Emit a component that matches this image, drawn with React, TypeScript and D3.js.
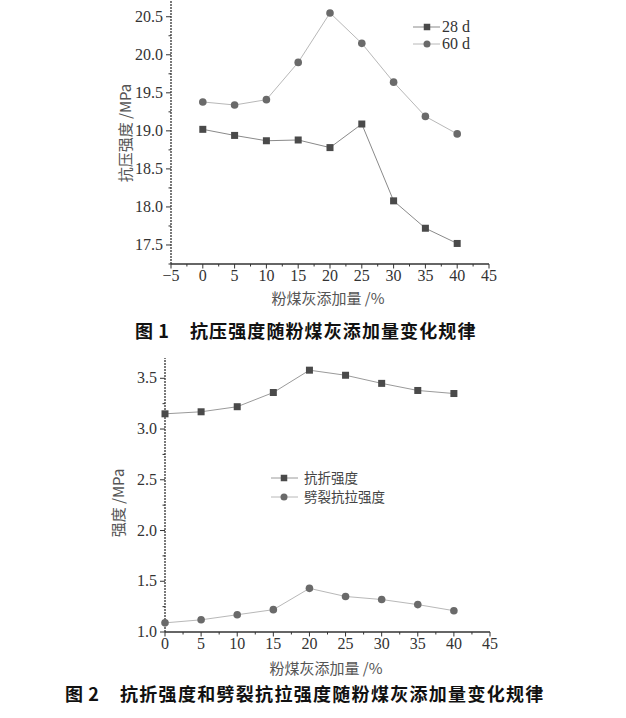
import React from "react";
import * as d3 from "d3";

const fly = [0, 5, 10, 15, 20, 25, 30, 35, 40];
const comp28 = [19.02, 18.94, 18.87, 18.88, 18.78, 19.09, 18.08, 17.72, 17.52];
const comp60 = [19.38, 19.34, 19.41, 19.9, 20.55, 20.15, 19.64, 19.19, 18.96];
const flex = [3.15, 3.17, 3.22, 3.36, 3.58, 3.53, 3.45, 3.38, 3.35];
const split = [1.09, 1.12, 1.17, 1.22, 1.43, 1.35, 1.32, 1.27, 1.21];

const xTicks1 = [-5, 0, 5, 10, 15, 20, 25, 30, 35, 40, 45];
const yTicks1 = [17.5, 18.0, 18.5, 19.0, 19.5, 20.0, 20.5];
const xTicks2 = [0, 5, 10, 15, 20, 25, 30, 35, 40, 45];
const yTicks2 = [1.0, 1.5, 2.0, 2.5, 3.0, 3.5];

const SERIF = "'Liberation Serif', 'DejaVu Serif', serif";
const CJK = "'Noto Sans CJK SC', sans-serif";

type AxisProps = {
  x: d3.ScaleLinear<number, number>;
  y: d3.ScaleLinear<number, number>;
  xTicks: number[];
  yTicks: number[];
  xMinor: number[];
  yMinor: number[];
  yFmt: (v: number) => string;
};

function Axes({ x, y, xTicks, yTicks, xMinor, yMinor, yFmt }: AxisProps) {
  const [x0, x1] = x.range();
  const [y0, y1] = y.range();
  const c = "#333";
  return (
    <g>
      <line x1={x0} x2={x1} y1={y0} y2={y0} stroke={c} strokeWidth={1.3} />
      <line x1={x0} x2={x0} y1={y0} y2={y1} stroke={c} strokeWidth={1.3} strokeDasharray="2 1" />
      {xMinor.map((t) => (
        <line key={"xm" + t} x1={x(t)} x2={x(t)} y1={y0} y2={y0 + 2.5} stroke={c} />
      ))}
      {xTicks.map((t) => (
        <g key={"x" + t}>
          <line x1={x(t)} x2={x(t)} y1={y0} y2={y0 + 4.5} stroke={c} />
          <text x={x(t)} y={y0 + 17} textAnchor="middle" fontFamily={SERIF} fontSize={16} fill="#333">
            {t < 0 ? "\u2212" + Math.abs(t) : t}
          </text>
        </g>
      ))}
      {yMinor.map((t) => (
        <line key={"ym" + t} x1={x0} x2={x0 - 2.5} y1={y(t)} y2={y(t)} stroke={c} />
      ))}
      {yTicks.map((t) => (
        <g key={"y" + t}>
          <line x1={x0} x2={x0 - 5} y1={y(t)} y2={y(t)} stroke={c} />
          <text x={x0 - 8} y={y(t) + 5} textAnchor="end" fontFamily={SERIF} fontSize={16} fill="#333">
            {yFmt(t)}
          </text>
        </g>
      ))}
    </g>
  );
}

function Square({ cx, cy, s = 7, fill = "#4a4a4a" }: { cx: number; cy: number; s?: number; fill?: string }) {
  return <rect x={cx - s / 2} y={cy - s / 2} width={s} height={s} fill={fill} />;
}
function Dot({ cx, cy, r = 3.8, fill = "#6a6a6a" }: { cx: number; cy: number; r?: number; fill?: string }) {
  return <circle cx={cx} cy={cy} r={r} fill={fill} />;
}

export default function App() {
  // chart 1
  const x1 = d3.scaleLinear().domain([-5, 45]).range([171, 489]);
  const y1 = d3.scaleLinear().domain([17.25, 20.72]).range([264, 0]);
  // chart 2
  const x2 = d3.scaleLinear().domain([0, 45]).range([165, 490]);
  const y2 = d3.scaleLinear().domain([1.0, 3.7]).range([632, 358]);

  const line1 = (vals: number[]) =>
    d3.line<number>().x((_, i) => x1(fly[i])).y((v) => y1(v))(vals) || "";
  const line2 = (vals: number[]) =>
    d3.line<number>().x((_, i) => x2(fly[i])).y((v) => y2(v))(vals) || "";

  const xMinor1 = d3.range(-2.5, 45, 5);
  const yMinor1 = d3.range(17.25, 20.75, 0.5);
  const xMinor2 = d3.range(2.5, 45, 5);
  const yMinor2 = d3.range(1.25, 3.7, 0.5);

  return (
    <svg
      width={626}
      height={718}
      style={{ position: "absolute", left: 0, top: 0, background: "#fff" }}
    >
      <rect width={626} height={718} fill="#fff" />
      {/* Chart 1 */}
      <Axes x={x1} y={y1} xTicks={xTicks1} yTicks={yTicks1} xMinor={xMinor1} yMinor={yMinor1} yFmt={(v) => v.toFixed(1)} />
      <path d={line1(comp60)} fill="none" stroke="#b8b8b8" strokeWidth={1} />
      <path d={line1(comp28)} fill="none" stroke="#8a8a8a" strokeWidth={1} />
      {comp60.map((v, i) => (
        <Dot key={"c60" + i} cx={x1(fly[i])} cy={y1(v)} />
      ))}
      {comp28.map((v, i) => (
        <Square key={"c28" + i} cx={x1(fly[i])} cy={y1(v)} />
      ))}
      {/* legend 1 */}
      <line x1={413} x2={440} y1={27} y2={27} stroke="#8a8a8a" />
      <Square cx={427} cy={27} s={6.5} />
      <text x={442} y={32} fontFamily={SERIF} fontSize={16} fill="#333">28 d</text>
      <line x1={413} x2={440} y1={44} y2={44} stroke="#b8b8b8" />
      <Dot cx={427} cy={44} r={3.5} />
      <text x={442} y={49} fontFamily={SERIF} fontSize={16} fill="#333">60 d</text>
      {/* axis labels 1 */}
      <text
        transform="translate(131,133) rotate(-90)"
        textAnchor="middle"
        fontFamily={CJK}
        fontSize={15}
        fill="#555"
      >
        抗压强度 /MPa
      </text>
      <text x={328} y={304} textAnchor="middle" fontFamily={CJK} fontSize={15} fill="#555">
        粉煤灰添加量 /%
      </text>
      <text x={135} y={338} fontFamily={CJK} fontSize={18} fontWeight="bold" fill="#111" letterSpacing={0.6}>
        图 1
      </text>
      <text x={190} y={338} fontFamily={CJK} fontSize={18} fontWeight="bold" fill="#111" letterSpacing={1.1}>
        抗压强度随粉煤灰添加量变化规律
      </text>

      {/* Chart 2 */}
      <Axes x={x2} y={y2} xTicks={xTicks2} yTicks={yTicks2} xMinor={xMinor2} yMinor={yMinor2} yFmt={(v) => v.toFixed(1)} />
      <path d={line2(flex)} fill="none" stroke="#9a9a9a" strokeWidth={1} />
      <path d={line2(split)} fill="none" stroke="#b8b8b8" strokeWidth={1} />
      {flex.map((v, i) => (
        <Square key={"fl" + i} cx={x2(fly[i])} cy={y2(v)} />
      ))}
      {split.map((v, i) => (
        <Dot key={"sp" + i} cx={x2(fly[i])} cy={y2(v)} />
      ))}
      {/* legend 2 */}
      <line x1={271} x2={298} y1={478} y2={478} stroke="#9a9a9a" />
      <Square cx={284} cy={478} s={6.5} />
      <text x={304} y={483} fontFamily={CJK} fontSize={13.5} fill="#444">抗折强度</text>
      <line x1={271} x2={298} y1={497} y2={497} stroke="#b8b8b8" />
      <Dot cx={284} cy={497} r={3.5} />
      <text x={304} y={502} fontFamily={CJK} fontSize={13.5} fill="#444">劈裂抗拉强度</text>
      {/* axis labels 2 */}
      <text
        transform="translate(124,503) rotate(-90)"
        textAnchor="middle"
        fontFamily={CJK}
        fontSize={15}
        fill="#555"
      >
        强度 /MPa
      </text>
      <text x={326} y={674} textAnchor="middle" fontFamily={CJK} fontSize={15} fill="#555">
        粉煤灰添加量 /%
      </text>
      <text x={65} y={701} fontFamily={CJK} fontSize={18} fontWeight="bold" fill="#111" letterSpacing={0.6}>
        图 2
      </text>
      <text x={120} y={701} fontFamily={CJK} fontSize={18} fontWeight="bold" fill="#111" letterSpacing={1.3}>
        抗折强度和劈裂抗拉强度随粉煤灰添加量变化规律
      </text>
    </svg>
  );
}
